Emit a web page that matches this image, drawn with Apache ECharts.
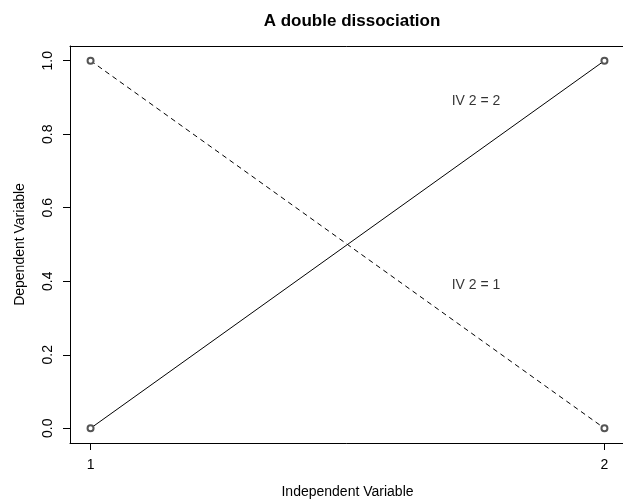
<!DOCTYPE html>
<html>
<head>
<meta charset="utf-8">
<script src="https://cdn.jsdelivr.net/npm/echarts@6/dist/echarts.min.js"></script>
<style>
  html, body { margin: 0; padding: 0; background: #fff; }
  #chart { width: 623px; height: 502px; }
</style>
</head>
<body>
<div id="chart"></div>
<script>
// levels of the independent variable
const ivLevels = [1, 2];
// IV 2 = 2 (solid) and IV 2 = 1 (dashed)
const solidValues = [0, 1];
const dashedValues = [1, 0];
const yTicks = [0, 0.2, 0.4, 0.6, 0.8, 1.0];
const xTicks = [1, 2];
// text labels inside the plot
const noteText = ['IV 2 = 2', 'IV 2 = 1'];
const noteX = [1.75, 1.75];
const noteY = [0.89, 0.39];

const FONT = 'Liberation Sans, Arial, Helvetica, sans-serif';
const FS = 14;

const myChart = echarts.init(document.getElementById('chart'));

const option = {
  backgroundColor: '#fff',
  animation: false,
  title: {
    text: 'A double dissociation',
    left: 347,
    textAlign: 'center',
    top: 8,
    textStyle: { fontFamily: FONT, fontSize: 17, fontWeight: 'bold', color: '#000' }
  },
  grid: {
    left: 70,
    right: -2,
    top: 46,
    bottom: 59,
    show: false,
    containLabel: false,
    outerBoundsMode: 'none'
  },
  xAxis: [
    {
      type: 'value',
      position: 'bottom',
      min: 0.96,
      max: 2.04,
      name: 'Independent Variable',
      nameLocation: 'middle',
      nameGap: 42,
      nameTextStyle: { fontFamily: FONT, fontSize: FS, color: '#000' },
      splitLine: { show: false },
      axisLine: { show: true, onZero: false, lineStyle: { color: '#000', width: 1 } },
      axisTick: {
        show: true, inside: false, length: 7,
        customValues: xTicks,
        lineStyle: { color: '#000' }
      },
      axisLabel: {
        customValues: xTicks,
        margin: 15,
        fontFamily: FONT, fontSize: FS, color: '#000',
        formatter: v => String(v)
      }
    },
    {
      // top edge of the plot box
      type: 'value',
      position: 'top',
      min: 0.96,
      max: 2.04,
      splitLine: { show: false },
      axisLine: { show: true, onZero: false, lineStyle: { color: '#000', width: 1 } },
      axisTick: { show: false },
      axisLabel: { show: false }
    }
  ],
  yAxis: {
    type: 'value',
    min: -0.04,
    max: 1.04,
    name: 'Dependent Variable',
    nameLocation: 'middle',
    nameGap: 43,
    nameRotate: 90,
    nameTextStyle: { fontFamily: FONT, fontSize: FS, color: '#000' },
    splitLine: { show: false },
    axisLine: { show: true, onZero: false, lineStyle: { color: '#000', width: 1 } },
    axisTick: {
      show: true, inside: false, length: 7,
      customValues: yTicks,
      lineStyle: { color: '#000' }
    },
    axisLabel: {
      customValues: yTicks,
      rotate: 90,
      margin: 15,
      fontFamily: FONT, fontSize: FS, color: '#000',
      formatter: v => v.toFixed(1)
    }
  },
  series: [
    {
      name: 'IV 2 = 2',
      type: 'line',
      data: ivLevels.map((x, i) => [x, solidValues[i]]),
      symbol: 'emptyCircle',
      symbolSize: 6,
      itemStyle: { color: '#555', borderWidth: 1.5 },
      lineStyle: { color: '#000', width: 1, type: 'solid' }
    },
    {
      name: 'IV 2 = 1',
      type: 'line',
      data: ivLevels.map((x, i) => [x, dashedValues[i]]),
      symbol: 'emptyCircle',
      symbolSize: 6,
      itemStyle: { color: '#555', borderWidth: 1.5 },
      lineStyle: { color: '#000', width: 1, type: [5, 4] }
    },
    {
      name: 'notes',
      type: 'scatter',
      symbolSize: 0,
      data: noteText.map((t, i) => ({ name: t, value: [noteX[i], noteY[i]] })),
      label: {
        show: true,
        position: 'inside',
        formatter: p => p.name,
        fontFamily: FONT, fontSize: FS, color: '#000'
      },
      silent: true
    }
  ]
};

myChart.setOption(option);
</script>
</body>
</html>
